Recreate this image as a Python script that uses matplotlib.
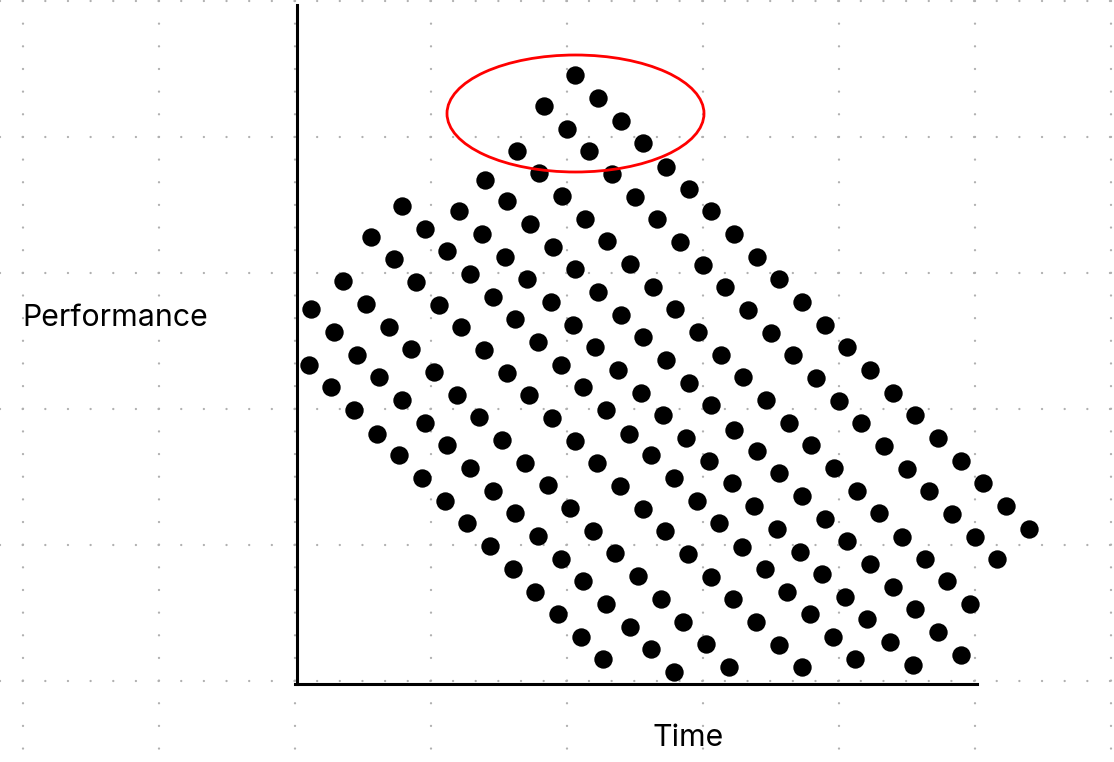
import matplotlib.pyplot as plt
from matplotlib.patches import Ellipse

plt.rcParams['lines.scale_dashes'] = False

# points du nuage : temps (axe x) et performance (axe y), en unites du graphe
time = [
    278, 247, 301, 270, 324, 220, 292, 346, 188, 242, 315, 369,
    105, 210, 162, 128, 233, 74, 185, 150, 97, 208, 173, 46, 119, 230, 196,
    14, 69, 142, 218, 37, 92, 164, 241, 60, 114, 187, 12, 137, 210, 82, 34,
    160, 232, 105, 57, 182, 128,
    392, 265, 338, 414, 288, 360, 437, 310, 383, 256, 460, 333, 406, 278, 482,
    356, 428, 301, 254, 378, 451, 324, 276, 401, 474, 346, 298, 424, 496, 369,
    264, 321, 446, 392, 286, 344, 469, 414, 309, 366, 255, 492, 437,
    505, 528, 550, 573, 519, 596, 542, 618, 564,
    80, 150, 205, 102, 228, 173, 125, 196, 148, 218, 170, 241, 193, 216, 238,
    278, 332, 389, 354, 300, 412, 460, 251, 323, 377, 482, 435, 273, 346, 400,
    457, 296, 368, 422, 480, 264, 318, 391, 445, 286, 341, 414, 468, 309, 364,
    436, 490, 261, 333, 386, 459, 284, 354, 409, 482, 306, 377, 432,
    641, 514, 587, 537, 664, 610, 686, 560, 632, 505, 709, 582, 655, 528, 732,
    605, 678, 550, 503, 700, 628, 573, 525, 650, 596, 548, 673, 618, 513, 570,
    641, 536, 593, 664, 558, 616, 505,
]
perf = [
    609, 578, 586, 555, 563, 533, 533, 541, 504, 511, 510, 517,
    478, 483, 473, 455, 460, 447, 450, 433, 425, 427, 410, 403, 402, 405, 387,
    375, 380, 379, 365, 352, 357, 357, 342, 329, 335, 334, 319, 312, 311, 307, 297,
    289, 289, 284, 274, 267, 261,
    495, 488, 487, 473, 465, 465, 450, 443, 442, 437, 427, 420, 419, 415, 405,
    397, 397, 392, 382, 375, 374, 369, 359, 352, 351, 347, 337, 329, 329, 324,
    319, 314, 307, 301, 297, 291, 284, 279, 274, 269, 266, 261, 254,
    382, 359, 337, 314, 306, 291, 283, 269, 261,
    250, 239, 244, 229, 221, 216, 206, 193, 183, 171, 161, 148, 138, 115, 92,
    243, 250, 246, 229, 221, 223, 233, 199, 198, 206, 211, 201, 176, 175, 183,
    178, 153, 153, 161, 155, 125, 131, 130, 137, 103, 108, 107, 115, 80, 85,
    85, 92, 70, 57, 62, 62, 47, 35, 40, 39, 25, 12, 17,
    246, 239, 238, 216, 223, 215, 201, 193, 193, 188, 178, 171, 170, 165, 155,
    147, 147, 143, 132, 125, 125, 120, 110, 103, 97, 87, 80, 75, 70, 65,
    52, 47, 42, 29, 25, 19, 17,
]

# zone entouree en rouge (le pic)
pic_centre = (278.5, 570.5)
pic_largeur = 257
pic_hauteur = 117

x_label = "Time"
y_label = "Performance"

fig = plt.figure(figsize=(11.14, 7.62), dpi=100)
ax = fig.add_axes([0, 0, 1, 1])
ax.set_xlim(-297, 817)
ax.set_ylim(-78, 684)

# grille pointillee du fond (style tableau blanc)
for gx in [-274, -138, -2, 134, 270, 406, 542, 678, 814]:
    ax.plot([gx, gx], [683.5, -80], color='#b0b0b0', lw=1.7,
            linestyle=(0, (0.01, 16.3)), dash_capstyle='round', zorder=0)
for gy in [683.5, 547.5, 411.5, 275.5, 139.5, 3.5]:
    ax.plot([-296.7, 820], [gy, gy], color='#b0b0b0', lw=1.7,
            linestyle=(0, (0.01, 16.3)), dash_capstyle='round', zorder=0)

# axes
for side in ['top', 'right']:
    ax.spines[side].set_visible(False)
ax.spines['left'].set_position(('data', 0))
ax.spines['bottom'].set_position(('data', 0))
ax.spines['left'].set_bounds(0, 679)
ax.spines['bottom'].set_bounds(-2, 680)
ax.spines['left'].set_linewidth(2.2)
ax.spines['bottom'].set_linewidth(2.2)
ax.set_xticks([])
ax.set_yticks([])

ax.scatter(time, perf, s=175, color='black', linewidths=0, zorder=3, clip_on=False)

ax.add_patch(Ellipse(pic_centre, pic_largeur, pic_hauteur, facecolor='none',
                     edgecolor='#ff0000', lw=2.0, zorder=4))

ax.text(-275, 358, y_label, fontsize=21.8, family='Inter', ha='left', va='baseline')
ax.text(391, -62, x_label, fontsize=21.8, family='Inter', ha='center', va='baseline')

fig.savefig('out.png', dpi=100)
